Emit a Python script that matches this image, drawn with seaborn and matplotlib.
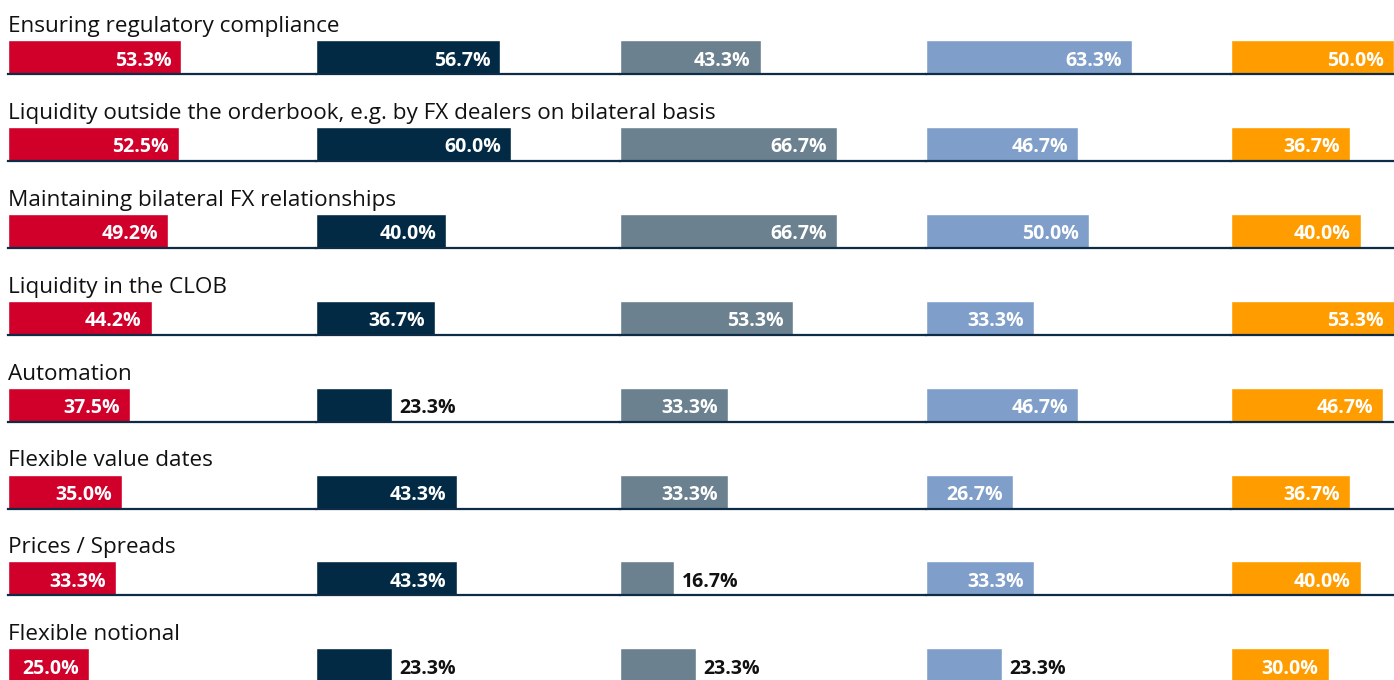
import matplotlib
matplotlib.use("Agg")
import matplotlib.pyplot as plt
import seaborn as sns

sns.set_style("white")
plt.rcParams['font.family'] = ['Open Sans', 'DejaVu Sans']

categories = [
    "Ensuring regulatory compliance",
    "Liquidity outside the orderbook, e.g. by FX dealers on bilateral basis",
    "Maintaining bilateral FX relationships",
    "Liquidity in the CLOB",
    "Automation",
    "Flexible value dates",
    "Prices / Spreads",
    "Flexible notional",
]
series_red = [53.3, 52.5, 49.2, 44.2, 37.5, 35.0, 33.3, 25.0]
series_navy = [56.7, 60.0, 40.0, 36.7, 23.3, 43.3, 43.3, 23.3]
series_slate = [43.3, 66.7, 66.7, 53.3, 33.3, 33.3, 16.7, 23.3]
series_lightblue = [63.3, 46.7, 50.0, 33.3, 46.7, 26.7, 33.3, 23.3]
series_orange = [50.0, 36.7, 40.0, 53.3, 46.7, 36.7, 40.0, 30.0]

series = [series_red, series_navy, series_slate, series_lightblue, series_orange]
colors = ["#D0002B", "#022A44", "#6B818F", "#7F9FCA", "#FF9D00"]

W, H = 1394, 680
fig = plt.figure(figsize=(W / 100, H / 100), dpi=100)

col_starts = [8, 316, 620, 926, 1231]
col_ends = col_starts[1:] + [W]
scale = 3.25  # px per percent
row_top0 = 40
row_step = 86.9
bar_h = 34

for i, cat in enumerate(categories):
    top = row_top0 + row_step * i
    fig.text(8 / W, 1 - (top - 8) / H, cat, fontsize=16.2, color="#111111",
             ha="left", va="baseline")
    for j in range(5):
        x0, x1 = col_starts[j], col_ends[j]
        ax = fig.add_axes([x0 / W, 1 - (top + bar_h) / H, (x1 - x0) / W, bar_h / H])
        v = series[j][i]
        sns.barplot(x=[v], y=[cat], ax=ax, color=colors[j], orient="h",
                    width=1, saturation=1)
        xmax = (x1 - x0) / scale
        ax.set_xlim(0, xmax)
        ax.set_ylim(0.5, -0.5)
        ax.set_xticks([])
        ax.set_yticks([])
        ax.set_xlabel("")
        ax.set_ylabel("")
        for s in ["top", "left", "right"]:
            ax.spines[s].set_visible(False)
        ax.spines["bottom"].set_visible(True)
        ax.spines["bottom"].set_color("#0E2C46")
        ax.spines["bottom"].set_linewidth(1.6)
        ax.patch.set_alpha(0)
        label = f"{v:.1f}%"
        if v >= 25:
            ax.annotate(label, xy=(min(v, xmax), 0), xytext=(-10, -1),
                        textcoords="offset pixels", ha="right", va="center_baseline",
                        color="white", fontsize=14, fontweight="bold")
        else:
            ax.annotate(label, xy=(v, 0), xytext=(8, -1),
                        textcoords="offset pixels", ha="left", va="center_baseline",
                        color="#111111", fontsize=14, fontweight="bold")

fig.savefig("out.png", dpi=100)
